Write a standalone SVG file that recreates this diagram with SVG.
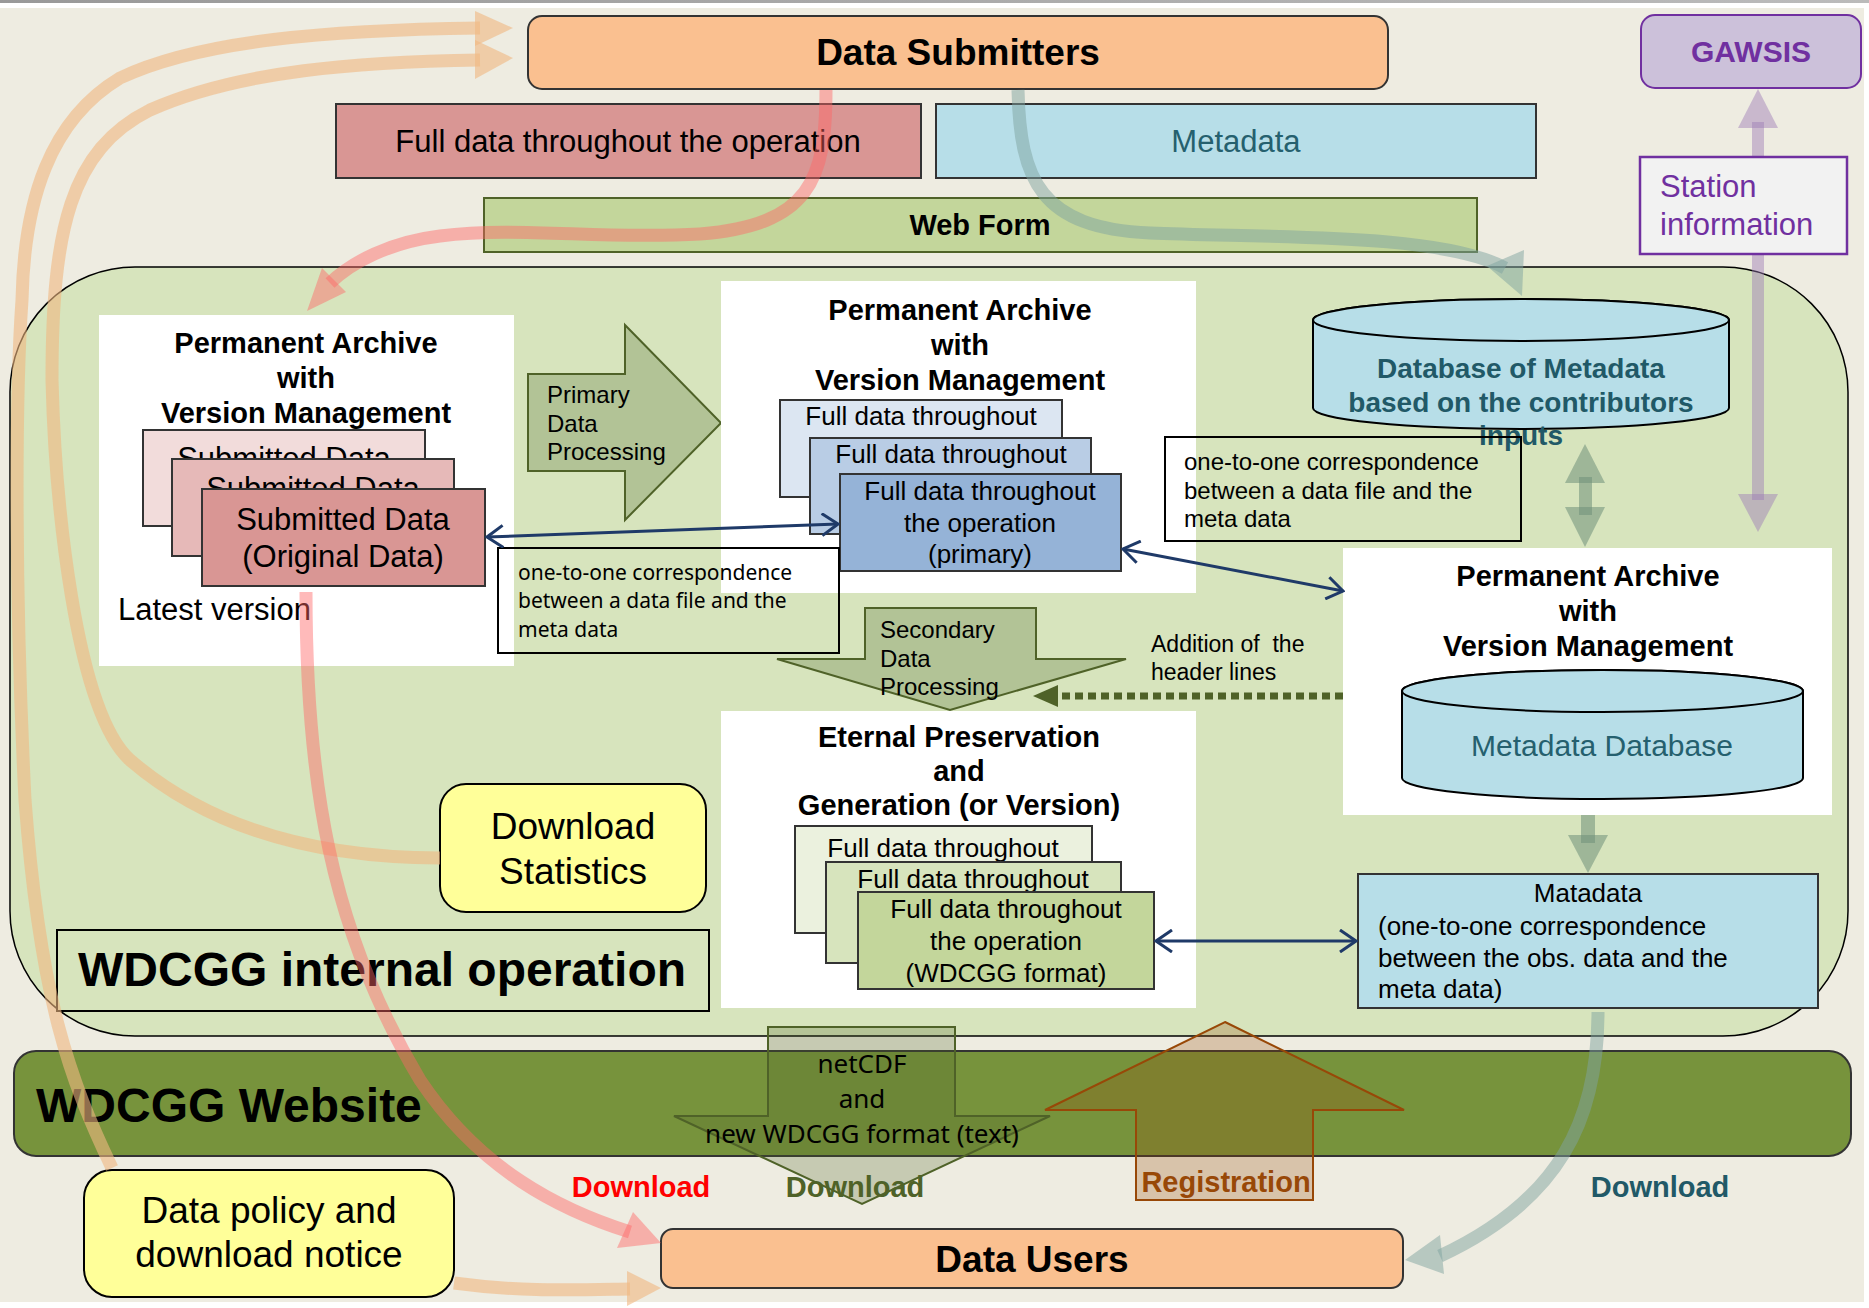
<svg xmlns="http://www.w3.org/2000/svg" width="1869" height="1308" viewBox="0 0 1869 1308">
<style>
.t{font-family:"Liberation Sans",Arial,sans-serif;fill:#000}
.c{font-family:"Noto Sans","Liberation Sans",sans-serif;fill:#000}
.b{font-weight:bold}
.m{text-anchor:middle}
.box{stroke:#333;stroke-width:2}
.wbox{fill:#fff}
.blue{fill:none;stroke:#1F3A68;stroke-width:3;marker-start:url(#open);marker-end:url(#open)}
.tan{fill:none;stroke:#F0B880;stroke-opacity:0.6;stroke-width:13}
.tanh{fill:#F0B880;fill-opacity:0.6}
.red{fill:none;stroke:#FF6666;stroke-opacity:0.45;stroke-width:13}
.redh{fill:#FF6666;fill-opacity:0.45}
.teal{fill:none;stroke:#7FA3A0;stroke-opacity:0.5;stroke-width:13}
.tealh{fill:#7FA3A0;fill-opacity:0.5}
.gg{fill:#6F8F7A;fill-opacity:0.55}
.pu{fill:#9B7BB5;fill-opacity:0.45}
</style>
<defs>
<marker id="open" viewBox="0 0 20 24" refX="18" refY="12" markerWidth="20" markerHeight="24" markerUnits="userSpaceOnUse" orient="auto-start-reverse">
<path d="M2 1 L18 12 L2 23" fill="none" stroke="#1F3A68" stroke-width="3"/>
</marker>
<linearGradient id="topbar" x1="0" y1="0" x2="1" y2="0">
<stop offset="0" stop-color="#999"/><stop offset="1" stop-color="#bbb"/>
</linearGradient>
</defs>

<rect x="0" y="0" width="1869" height="1308" fill="#fff"/>
<rect x="0" y="8" width="1864" height="1294" fill="#EEECE1"/>
<rect x="0" y="0" width="1869" height="3" fill="url(#topbar)"/>

<g id="internal-operation">
<rect x="10" y="267" width="1838" height="769" rx="125" ry="125" fill="#D7E4BD" stroke="#000" stroke-width="1.5"/>
</g>

<g id="data-submitters">
<rect x="528" y="16" width="860" height="73" rx="14" fill="#FAC090" class="box"/>
<text x="958" y="65" class="t b m" font-size="37">Data Submitters</text>
</g>

<g id="full-data">
<rect x="336" y="104" width="585" height="74" fill="#D99694" class="box"/>
<text x="628" y="152" class="t m" font-size="31">Full data throughout the operation</text>
</g>

<g id="metadata">
<rect x="936" y="104" width="600" height="74" fill="#B7DEE8" class="box"/>
<text x="1236" y="152" class="t m" font-size="31" style="fill:#25606E">Metadata</text>
</g>

<g id="web-form">
<rect x="484" y="198" width="993" height="54" fill="#C3D69B" stroke="#4F6228" stroke-width="2"/>
<text x="980" y="235" class="t b m" font-size="29">Web Form</text>
</g>

<g id="gawsis">
<rect x="1641" y="15" width="220" height="73" rx="14" fill="#CCC1DA" stroke="#7030A0" stroke-width="2"/>
<text x="1751" y="62" class="t b m" font-size="30" style="fill:#7030A0">GAWSIS</text>
</g>

<g id="archive-submitted">
<rect x="99" y="315" width="415" height="351" class="wbox"/>
<text x="306" y="353" class="t b m" font-size="29">Permanent Archive</text>
<text x="306" y="388" class="t b m" font-size="29">with</text>
<text x="306" y="423" class="t b m" font-size="29">Version Management</text>
<rect x="143" y="430" width="282" height="96" fill="#F2DCDB" class="box"/>
<text x="284" y="469" class="t m" font-size="31">Submitted Data</text>
<rect x="172" y="459" width="282" height="97" fill="#E6B9B8" class="box"/>
<text x="313" y="499" class="t m" font-size="31">Submitted Data</text>
<rect x="202" y="489" width="283" height="97" fill="#D99694" class="box"/>
<text x="343" y="530" class="t m" font-size="31">Submitted Data</text>
<text x="343" y="567" class="t m" font-size="31">(Original Data)</text>
<text x="118" y="620" class="t" font-size="31">Latest version</text>
</g>

<g id="primary-processing">
<polygon points="528,374 625,374 625,325 721,423 625,520 625,471 528,471" fill="#B2C396" stroke="#4F6228" stroke-width="2"/>
<text x="547" y="403" class="t" font-size="24">Primary</text>
<text x="547" y="432" class="t" font-size="24">Data</text>
<text x="547" y="460" class="t" font-size="24">Processing</text>
</g>

<g id="archive-primary">
<rect x="721" y="281" width="475" height="312" class="wbox"/>
<text x="960" y="320" class="t b m" font-size="29">Permanent Archive</text>
<text x="960" y="355" class="t b m" font-size="29">with</text>
<text x="960" y="390" class="t b m" font-size="29">Version Management</text>
<rect x="780" y="400" width="282" height="97" fill="#DCE6F2" class="box"/>
<text x="921" y="425" class="t m" font-size="26">Full data throughout</text>
<rect x="810" y="438" width="281" height="96" fill="#B9CDE5" class="box"/>
<text x="951" y="463" class="t m" font-size="26">Full data throughout</text>
<rect x="840" y="474" width="281" height="97" fill="#95B3D7" class="box"/>
<text x="980" y="500" class="t m" font-size="26">Full data throughout</text>
<text x="980" y="532" class="t m" font-size="26">the operation</text>
<text x="980" y="563" class="t m" font-size="26">(primary)</text>
</g>

<g id="note-left">
<rect x="498" y="548" width="341" height="105" fill="none" stroke="#000" stroke-width="2"/>
<text x="518" y="580" class="c" font-size="21">one-to-one correspondence</text>
<text x="518" y="608" class="c" font-size="21">between a data file and the</text>
<text x="518" y="637" class="c" font-size="21">meta data</text>
</g>

<g id="db-contributors">
<path d="M1313 320 A208 21 0 0 1 1729 320 L1729 408 A208 21 0 0 1 1313 408 Z" fill="#B7DEE8" stroke="#000" stroke-width="2"/>
<ellipse cx="1521" cy="320" rx="208" ry="21" fill="#B7DEE8" stroke="#000" stroke-width="2"/>
<text x="1521" y="378" class="t b m" font-size="28" style="fill:#215967">Database of Metadata</text>
<text x="1521" y="412" class="t b m" font-size="28" style="fill:#215967">based on the contributors</text>
<text x="1521" y="445" class="t b m" font-size="28" style="fill:#215967">inputs</text>
</g>

<g id="note-right">
<rect x="1165" y="437" width="356" height="104" fill="none" stroke="#000" stroke-width="2"/>
<text x="1184" y="470" class="t" font-size="24">one-to-one correspondence</text>
<text x="1184" y="499" class="t" font-size="24">between a data file and the</text>
<text x="1184" y="527" class="t" font-size="24">meta data</text>
</g>

<g id="archive-metadata">
<rect x="1343" y="548" width="489" height="267" class="wbox"/>
<text x="1588" y="586" class="t b m" font-size="29">Permanent Archive</text>
<text x="1588" y="621" class="t b m" font-size="29">with</text>
<text x="1588" y="656" class="t b m" font-size="29">Version Management</text>
<path d="M1402 691 A200.5 21 0 0 1 1803 691 L1803 778 A200.5 21 0 0 1 1402 778 Z" fill="#B7DEE8" stroke="#000" stroke-width="2"/>
<ellipse cx="1602.5" cy="691" rx="200.5" ry="21" fill="#B7DEE8" stroke="#000" stroke-width="2"/>
<text x="1602" y="756" class="t m" font-size="30" style="fill:#25606E">Metadata Database</text>
</g>

<g id="header-lines-label">
<text x="1151" y="652" class="t" font-size="23" xml:space="preserve">Addition of  the</text>
<text x="1151" y="680" class="t" font-size="23">header lines</text>
</g>

<g id="secondary-processing">
<polygon points="865,608 1036,608 1036,659 1126,659 950,710 777,659 865,659" fill="#B2C396" stroke="#4F6228" stroke-width="2"/>
<text x="880" y="638" class="t" font-size="24">Secondary</text>
<text x="880" y="667" class="t" font-size="24">Data</text>
<text x="880" y="695" class="t" font-size="24">Processing</text>
</g>

<g id="archive-eternal">
<rect x="721" y="711" width="475" height="297" class="wbox"/>
<text x="959" y="747" class="t b m" font-size="29">Eternal Preservation</text>
<text x="959" y="781" class="t b m" font-size="29">and</text>
<text x="959" y="815" class="t b m" font-size="29">Generation (or Version)</text>
<rect x="795" y="826" width="297" height="107" fill="#EBF1DE" class="box"/>
<text x="943" y="857" class="t m" font-size="26">Full data throughout</text>
<rect x="826" y="862" width="295" height="101" fill="#D7E4BD" class="box"/>
<text x="973" y="888" class="t m" font-size="26">Full data throughout</text>
<rect x="858" y="892" width="296" height="97" fill="#C3D69B" class="box"/>
<text x="1006" y="918" class="t m" font-size="26">Full data throughout</text>
<text x="1006" y="950" class="t m" font-size="26">the operation</text>
<text x="1006" y="982" class="t m" font-size="26">(WDCGG format)</text>
</g>

<g id="matadata">
<rect x="1358" y="874" width="460" height="134" fill="#B7DEE8" class="box"/>
<text x="1588" y="902" class="t m" font-size="26">Matadata</text>
<text x="1378" y="935" class="t" font-size="26">(one-to-one correspondence</text>
<text x="1378" y="967" class="t" font-size="26">between the obs. data and the</text>
<text x="1378" y="998" class="t" font-size="26">meta data)</text>
</g>

<g id="download-statistics">
<rect x="440" y="784" width="266" height="128" rx="26" fill="#FFFF99" stroke="#000" stroke-width="2"/>
<text x="573" y="839" class="t m" font-size="37">Download</text>
<text x="573" y="884" class="t m" font-size="37">Statistics</text>
</g>

<g id="internal-label">
<rect x="57" y="930" width="652" height="81" fill="#D7E4BD" stroke="#000" stroke-width="2"/>
<text x="78" y="986" class="t b" font-size="48">WDCGG internal operation</text>
</g>

<g id="website">
<rect x="14" y="1051" width="1837" height="105" rx="22" fill="#77933C" stroke="#333" stroke-width="2"/>
<text x="36" y="1122" class="t b" font-size="48">WDCGG Website</text>
</g>

<g id="netcdf-download">
<polygon points="768,1027 955,1027 955,1116 1050,1116 862,1204 674,1116 768,1116" fill="#4F6228" fill-opacity="0.25" stroke="#4F6228" stroke-width="2"/>
<text x="862" y="1073" class="c m" font-size="26">netCDF</text>
<text x="862" y="1108" class="c m" font-size="26">and</text>
<text x="862" y="1143" class="c m" font-size="26">new WDCGG format (text)</text>
</g>

<g id="registration">
<polygon points="1225,1022 1404,1110 1313,1110 1313,1200 1136,1200 1136,1110 1045,1110" fill="#984807" fill-opacity="0.25" stroke="#984807" stroke-width="2"/>
<text x="1226" y="1192" class="t b m" font-size="29" style="fill:#984807">Registration</text>
</g>

<g id="download-labels">
<text x="641" y="1197" class="t b m" font-size="29" style="fill:#FF0000">Download</text>
<text x="855" y="1197" class="t b m" font-size="29" style="fill:#4F6228">Download</text>
<text x="1660" y="1197" class="t b m" font-size="29" style="fill:#215967">Download</text>
</g>

<g id="data-policy">
<rect x="84" y="1170" width="370" height="127" rx="28" fill="#FFFF99" stroke="#000" stroke-width="2"/>
<text x="269" y="1223" class="t m" font-size="37">Data policy and</text>
<text x="269" y="1267" class="t m" font-size="37">download notice</text>
</g>

<g id="data-users">
<rect x="661" y="1229" width="742" height="59" rx="12" fill="#FAC090" class="box"/>
<text x="1032" y="1272" class="t b m" font-size="37">Data Users</text>
</g>

<g id="connectors">
<path class="tan" d="M112 1168 C70 1080 40 1000 25 800 C15 600 15 400 22 300 C24 200 50 120 120 78 C200 40 330 30 480 28"/>
<polygon class="tanh" points="475,11 513,28 475,46"/>
<path class="tan" d="M440 858 C300 858 200 820 130 760 C75 710 55 500 52 380 C52 230 70 150 150 110 C240 70 360 62 480 60"/>
<polygon class="tanh" points="475,40 513,58 475,79"/>
<path class="tan" d="M454 1283 C520 1292 570 1290 630 1289"/>
<polygon class="tanh" points="627,1271 661,1288 627,1306"/>

<path class="red" d="M826 90 C826 180 810 225 700 234 C600 240 520 226 440 236 C390 242 352 262 330 283"/>
<polygon class="redh" points="346,292 307,311 322,268"/>
<path class="red" d="M306 592 C306 780 330 930 420 1080 C480 1170 560 1210 630 1232"/>
<polygon class="redh" points="617,1248 661,1243 633,1212"/>

<path class="teal" d="M1018 90 C1020 180 1040 228 1150 233 C1260 238 1440 232 1505 268"/>
<polygon class="tealh" points="1487,266 1524,250 1522,296"/>
<path class="teal" d="M1598 1012 C1598 1120 1560 1200 1440 1256"/>
<polygon class="tealh" points="1405,1260 1440,1235 1444,1274"/>

<rect class="pu" x="1752" y="122" width="12" height="378"/>
<polygon class="pu" points="1758,89 1738,128 1778,128"/>
<polygon class="pu" points="1738,494 1778,494 1758,532"/>

<rect class="gg" x="1579" y="477" width="13" height="38"/>
<polygon class="gg" points="1585,444 1565,483 1605,483"/>
<polygon class="gg" points="1565,507 1605,507 1585,547"/>
<rect class="gg" x="1581" y="815" width="14" height="28"/>
<polygon class="gg" points="1568,835 1608,835 1588,873"/>

<line class="blue" x1="487" y1="537" x2="838" y2="524"/>
<line class="blue" x1="1123" y1="549" x2="1343" y2="591"/>
<line class="blue" x1="1156" y1="941" x2="1356" y2="941"/>

<line x1="1343" y1="696" x2="1058" y2="696" stroke="#4F6228" stroke-width="7" stroke-dasharray="8 5"/>
<polygon points="1033,696 1058,685 1058,707" fill="#4F6228"/>
</g>

<g id="station-information">
<rect x="1640" y="157" width="207" height="97" fill="#F2F2F2" stroke="#7030A0" stroke-width="2.5"/>
<text x="1660" y="197" class="t" font-size="31" style="fill:#7030A0">Station</text>
<text x="1660" y="235" class="t" font-size="31" style="fill:#7030A0">information</text>
</g>
</svg>
